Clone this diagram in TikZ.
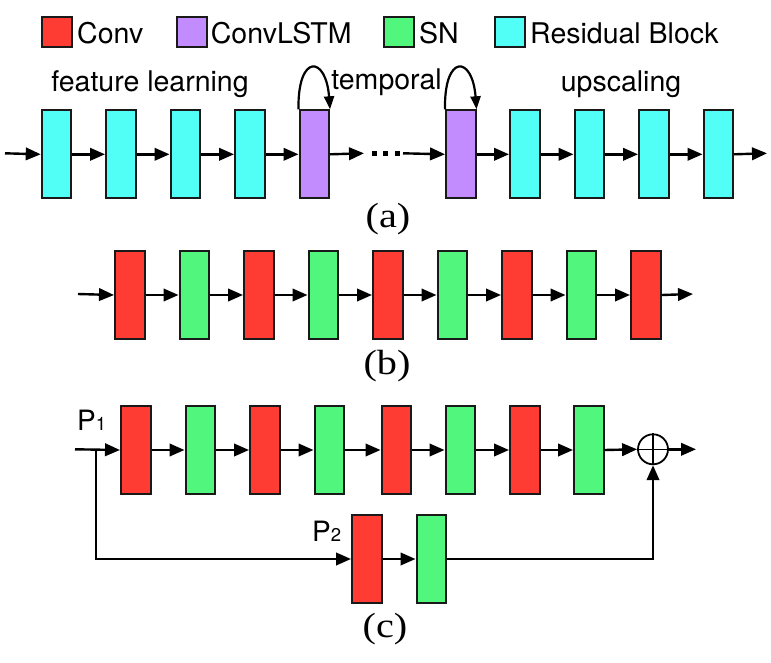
\documentclass[tikz,border=0pt]{standalone}
\usepackage{fontspec}
\usepackage{graphicx}
\setmainfont{Liberation Serif}
\newfontfamily\hv{TeX Gyre Heros}
\usetikzlibrary{arrows.meta,calc}
\definecolor{cred}{HTML}{FF3C33}
\definecolor{cpurple}{HTML}{C28CFF}
\definecolor{cgreen}{HTML}{50F77C}
\definecolor{ccyan}{HTML}{52FFF6}
\tikzset{
  blk/.style={draw=black!90, line width=2pt, minimum width=29.5pt, minimum height=88pt, inner sep=0pt, anchor=north west},
  rb/.style={blk, fill=ccyan},
  cl/.style={blk, fill=cpurple},
  cv/.style={blk, fill=cred},
  sn/.style={blk, fill=cgreen},
  leg/.style={draw=black!90, line width=1.8pt, minimum width=30pt, minimum height=30pt, inner sep=0pt, anchor=north west},
  legtxt/.style={anchor=base west, inner sep=0pt, font=\hv\fontsize{28.5}{30}\selectfont},
  lbl/.style={anchor=base, inner sep=0pt, font=\hv\fontsize{28.5}{30}\selectfont},
  sublbl/.style={inner sep=0pt, font=\fontsize{35}{37}\selectfont},
  arr/.style={line width=2.4pt, -{Triangle[length=15pt,width=12.5pt]}},
  looparr/.style={line width=2.2pt, -{Triangle[length=13pt,width=10pt]}},
}
\newcommand{\sublabel}[2]{{\fontsize{28}{30}\selectfont #1}{\fontsize{18.5}{20}\selectfont #2}}
\begin{document}
\begin{tikzpicture}[x=1pt,y=-1pt]
\useasboundingbox (0,0) rectangle (771,662);
% legend
\node[leg, fill=cred] (lg1) at (40.7,16) {};
\node[legtxt] (lt1) at (77,43.3) {Conv};
\node[leg, fill=cpurple] (lg2) at (175.7,16) {};
\node[legtxt] (lt2) at (210.7,43.3) {ConvLSTM};
\node[leg, fill=cgreen] (lg3) at (382.7,16) {};
\node[legtxt] (lt3) at (419,43.3) {SN};
\node[leg, fill=ccyan] (lg4) at (494,16) {};
\node[legtxt] (lt4) at (530,43.3) {Residual Block};
% row (a) labels
\node[lbl] (fl) at (150,91.5) {feature learning};
\node[lbl] (tp) at (386.5,89.5) {temporal};
\node[lbl] (up) at (621,91.5) {upscaling};
% row (a)
\coordinate (ain) at (5,153.3);
\node[rb] (a1) at (40.7,109.3) {};
\node[rb] (a2) at (105,109.3) {};
\node[rb] (a3) at (169.5,109.3) {};
\node[rb] (a4) at (234,109.3) {};
\node[cl] (a5) at (298.5,109.3) {};
\coordinate (adots1) at (364,153.3);
\coordinate (adots2) at (403,153.3);
\node[cl] (a6) at (445,109.3) {};
\node[rb] (a7) at (509,109.3) {};
\node[rb] (a8) at (573.5,109.3) {};
\node[rb] (a9) at (638,109.3) {};
\node[rb] (a10) at (702.5,109.3) {};
\coordinate (aout) at (767,153.3);
\draw[arr] (ain) -- (a1.west);
\draw[arr] (a1.east) -- (a2.west);
\draw[arr] (a2.east) -- (a3.west);
\draw[arr] (a3.east) -- (a4.west);
\draw[arr] (a4.east) -- (a5.west);
\draw[arr] (a5.east) -- (adots1);
\fill (371.5,151) rectangle +(5,5);
\fill (383,151) rectangle +(5,5);
\fill (394.5,151) rectangle +(5,5);
\draw[arr] (adots2) -- (a6.west);
\draw[arr] (a6.east) -- (a7.west);
\draw[arr] (a7.east) -- (a8.west);
\draw[arr] (a8.east) -- (a9.west);
\draw[arr] (a9.east) -- (a10.west);
\draw[arr] (a10.east) -- (aout);
% self loops
\draw[looparr] (a5.north west) .. controls +(-1,-56) and +(-4,-54) .. (a5.north east);
\draw[looparr] (a6.north west) .. controls +(-1,-56) and +(-4,-54) .. (a6.north east);
\node[sublbl] (capa) at (388,219) {\scalebox{1.15}[1]{(a)}};
% row (b)
\coordinate (bin) at (78,294);
\node[cv] (b1) at (114,250) {};
\node[sn] (b2) at (178.5,250) {};
\node[cv] (b3) at (243,250) {};
\node[sn] (b4) at (307.5,250) {};
\node[cv] (b5) at (372,250) {};
\node[sn] (b6) at (436.5,250) {};
\node[cv] (b7) at (501,250) {};
\node[sn] (b8) at (565.5,250) {};
\node[cv] (b9) at (630,250) {};
\coordinate (bout) at (693,294);
\draw[arr] (bin) -- (b1.west);
\draw[arr] (b1.east) -- (b2.west);
\draw[arr] (b2.east) -- (b3.west);
\draw[arr] (b3.east) -- (b4.west);
\draw[arr] (b4.east) -- (b5.west);
\draw[arr] (b5.east) -- (b6.west);
\draw[arr] (b6.east) -- (b7.west);
\draw[arr] (b7.east) -- (b8.west);
\draw[arr] (b8.east) -- (b9.west);
\draw[arr] (b9.east) -- (bout);
\node[sublbl] (capb) at (387,366) {\scalebox{1.15}[1]{(b)}};
% row (c)
\coordinate (cin) at (75,449.3);
\coordinate (cbr) at (96,449.3);
\node[cv] (c1) at (120,405) {};
\node[sn] (c2) at (184.5,405) {};
\node[cv] (c3) at (249,405) {};
\node[sn] (c4) at (313.5,405) {};
\node[cv] (c5) at (380.5,405) {};
\node[sn] (c6) at (444.5,405) {};
\node[cv] (c7) at (509,405) {};
\node[sn] (c8) at (573,405) {};
\node[draw, circle, line width=1.8pt, minimum size=30pt, inner sep=0pt] (sum) at (653,449.3) {};
\draw[line width=1.1pt] (sum.north) -- (sum.south) (sum.west) -- (sum.east);
\coordinate (cout) at (696,449.3);
\node[cv] (p1) at (351,514) {};
\node[sn] (p2) at (415.5,514) {};
\node[anchor=base west, inner sep=0pt, font=\hv] (lp1) at (77,430) {\sublabel{P}{1}};
\node[anchor=base west, inner sep=0pt, font=\hv] (lp2) at (312,541.7) {\sublabel{P}{2}};
\draw[arr] (cin) -- (c1.west);
\draw[arr] (c1.east) -- (c2.west);
\draw[arr] (c2.east) -- (c3.west);
\draw[arr] (c3.east) -- (c4.west);
\draw[arr] (c4.east) -- (c5.west);
\draw[arr] (c5.east) -- (c6.west);
\draw[arr] (c6.east) -- (c7.west);
\draw[arr] (c7.east) -- (c8.west);
\draw[arr] (c8.east) -- (sum.west);
\draw[arr] (sum.east) -- (cout);
\draw[arr] (cbr) |- (p1.west);
\draw[arr] (p1.east) -- (p2.west);
\draw[arr] (p2.east) -| (sum.south);
\node[sublbl] (capc) at (385,629) {\scalebox{1.15}[1]{(c)}};
\end{tikzpicture}
\end{document}
